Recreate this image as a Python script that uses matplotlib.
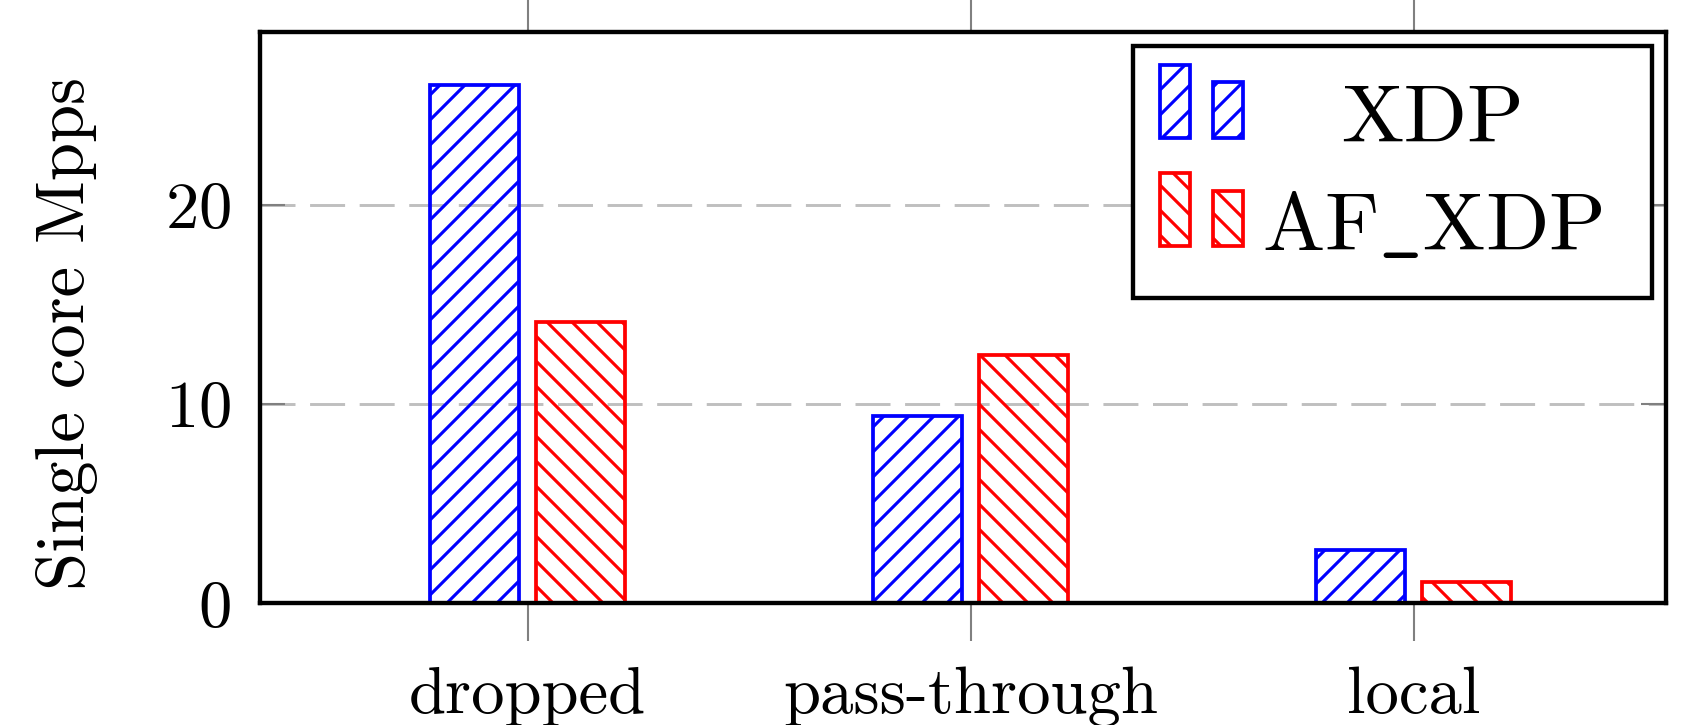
import matplotlib
matplotlib.use('Agg')
import matplotlib.pyplot as plt
from matplotlib.patches import Rectangle
import numpy as np

# données
categories = ['dropped', 'pass-through', 'local']
xdp = [26.0, 9.4, 2.7]
af_xdp = [14.1, 12.45, 1.1]
series = ['XDP', r'AF$\_$XDP']
yticks = [0, 10, 20]

plt.rcParams['font.family'] = ['cmr10', 'DejaVu Serif']
plt.rcParams['mathtext.fontset'] = 'cm'
plt.rcParams['axes.formatter.use_mathtext'] = True
plt.rcParams['hatch.linewidth'] = 1.5

fig = plt.figure(figsize=(1699 / 150, 725 / 150), dpi=150)
ax = fig.add_axes([0.153, 0.1676, 0.8276, 0.7876])

x = np.arange(len(categories))
w = 0.2
ax.bar(x - 0.12, xdp, w, facecolor='none', edgecolor='blue', hatch='//', linewidth=1.8, zorder=2)
ax.bar(x + 0.12, af_xdp, w, facecolor='none', edgecolor='red', hatch='\\\\', linewidth=1.8, zorder=2)

ax.set_xlim(-0.604, 2.57)
ax.set_ylim(0, 28.64)
ax.set_xticks(x)
ax.set_xticklabels(categories, fontsize=32)
ax.set_yticks(yticks)
ax.tick_params(axis='y', labelsize=32)
ax.tick_params(axis='x', direction='out', length=18, width=1, color='#808080',
               top=True, bottom=True, pad=12)
ax.tick_params(axis='y', direction='in', length=12, width=1, color='#808080',
               left=True, right=True, pad=14)

ax.yaxis.grid(True, linestyle=(0, (12, 5)), color='#bfbfbf', linewidth=1.4)
ax.set_axisbelow(True)
for s in ax.spines.values():
    s.set_linewidth(2.1)
    s.set_zorder(6)

ax.set_ylabel('Single core Mpps', fontsize=33, va='center')
ax.yaxis.set_label_coords(-0.137, 0.473)

# légende faite à la main (deux petits rectangles par entrée, comme pgfplots)
ax.add_patch(Rectangle((0.621, 0.535), 0.369, 0.442, transform=ax.transAxes,
                       facecolor='white', edgecolor='black', linewidth=2.1, zorder=7))
hw = 0.0213
for label, color, hatch, base in [(series[0], 'blue', '//', 0.8156),
                                  (series[1], 'red', '\\\\', 0.626)]:
    ax.add_patch(Rectangle((0.640, base), hw, 0.128, transform=ax.transAxes,
                           facecolor='white', edgecolor=color, hatch=hatch,
                           linewidth=1.8, zorder=8))
    ax.add_patch(Rectangle((0.678, base), hw, 0.097, transform=ax.transAxes,
                           facecolor='white', edgecolor=color, hatch=hatch,
                           linewidth=1.8, zorder=8))
    ax.text(0.834, base - 0.007, label, transform=ax.transAxes, fontsize=40,
            ha='center', va='baseline', zorder=9)

plt.savefig('out.png', dpi=150)
plt.close()
